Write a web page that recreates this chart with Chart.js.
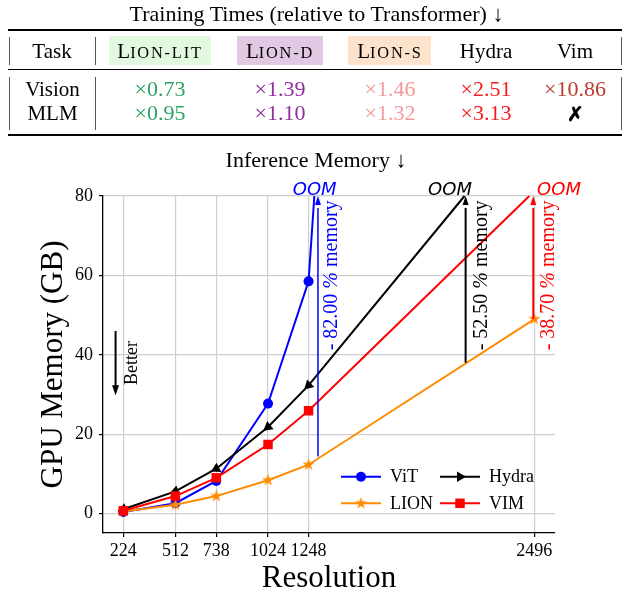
<!DOCTYPE html>
<html>
<head>
<meta charset="utf-8">
<script src="https://cdn.jsdelivr.net/npm/chart.js@4.4.1/dist/chart.umd.min.js"></script>
<style>
html, body { margin: 0; padding: 0; background: #fff; font-family: 'Liberation Serif', 'Times New Roman', Times, serif; }
#wrap { position: relative; width: 622px; height: 591px; overflow: hidden; }
#chart { position: absolute; left: 0; top: 0; }
.t { position: absolute; white-space: nowrap; line-height: 1; text-align: center; font-family: 'Liberation Serif', 'Times New Roman', Times, serif; }
.rule { position: absolute; background: #000; }
.vr { position: absolute; background: #555; width: 1px; }
.box { position: absolute; }
.sc { font-size: 0.78em; letter-spacing: 1.8px; }
</style>
</head>
<body>
<div id="wrap">
    <canvas id="chart" width="622" height="591"></canvas>
</div>
<script>
// ---- table data ----
const taskNames = ['Vision', 'MLM'];
const modelHeaders = ['L<span class="sc">ION-LIT</span>', 'L<span class="sc">ION-D</span>', 'L<span class="sc">ION-S</span>', 'Hydra', 'Vim'];
const visionTimes = ['×0.73', '×1.39', '×1.46', '×2.51', '×10.86'];
const mlmTimes = ['×0.95', '×1.10', '×1.32', '×3.13', '✗'];
const modelColors = ['#2ca25f', '#922b9f', '#f4999a', '#f41c1c', '#bb3b2e'];

// ---- chart data ----
const resolutions = [224, 512, 738, 1024, 1248];
const vitMemory = [0.4, 2.6, 8.2, 27.7, 58.5];
const hydraMemory = [1.1, 5.6, 11.3, 21.8, 32.3];
const lionMemory = [0.5, 2.2, 4.4, 8.4, 12.3];
const vimMemory = [0.7, 4.4, 9.0, 17.4, 25.9];
const lionExtraPoint = { x: 2496, y: 49.0 };
const oomLimit = 80;
const oomResolution = { vit: 1280, hydra: 2110, vim: 2468 };
const xTickValues = [224, 512, 738, 1024, 1248, 2496];
const yTickValues = [0, 20, 40, 60, 80];

// memory saving arrows: x, from, label
const savingArrows = [
    { x: 1300, from: 14.4, label: ['- 82.00 ', '%', ' memory'], color: '#0000ff', labelX: 1374, width: 1.5 },
    { x: 2116, from: 38.0, label: ['- 52.50 ', '%', ' memory'], color: '#000000', labelX: 2207, width: 2 },
    { x: 2490, from: 49.0, label: ['- 38.70 ', '%', ' memory'], color: '#ff0000', labelX: 2576, width: 2 }
];
const oomLabels = [
    { x: 1282, color: '#0000ff' },
    { x: 2030, color: '#000000' },
    { x: 2632, color: '#ff0000' }
];

const SERIF = "'Liberation Serif', 'Times New Roman', Times, serif";
const wrap = document.getElementById('wrap');

function place(html, cx, base, size, color) {
    const d = document.createElement('div');
    d.className = 't';
    d.style.fontFamily = SERIF;
    d.style.fontSize = size + 'px';
    d.style.left = (cx - 300) + 'px';
    d.style.width = '600px';
    d.style.top = (base - 0.8375 * size) + 'px';
    d.style.color = color || '#000';
    d.innerHTML = html;
    wrap.appendChild(d);
}

function rect(cls, left, top, w, h, color) {
    const d = document.createElement('div');
    d.className = cls;
    d.style.left = left + 'px';
    d.style.top = top + 'px';
    d.style.width = w + 'px';
    d.style.height = h + 'px';
    if (color) d.style.background = color;
    wrap.appendChild(d);
}

function buildTable() {
    // highlight boxes behind LION headers
    rect('box', 109, 36, 102, 29, '#e2f9e0');
    rect('box', 237, 36, 86, 29, '#e1c8e3');
    rect('box', 348, 36, 83, 29, '#fde2cc');

    place('Training Times (relative to Transformer) ↓', 316.5, 21, 22);
    rect('rule', 8, 29, 614, 2);
    rect('rule', 8, 69, 614, 1);
    rect('rule', 8, 134, 614, 2);
    [9, 95, 621].forEach(x => {
        rect('vr', x, 37, 1, 28);
        rect('vr', x, 77, 1, 53);
    });

    const colX = [160, 280, 390, 486, 575];
    place('Task', 52, 58.3, 21);
    modelHeaders.forEach((h, i) => place(h, colX[i], 58.3, 21));

    place(taskNames[0], 52.5, 96.7, 21);
    place(taskNames[1], 52.5, 120.7, 21);
    visionTimes.forEach((v, i) => place(v, colX[i], 96.7, 22, modelColors[i]));
    mlmTimes.forEach((v, i) => {
        if (v === '✗') place('<b>✗</b>', colX[i], 120.7, 20, '#000');
        else place(v, colX[i], 120.7, 22, modelColors[i]);
    });

    place('Inference Memory ↓', 316, 167, 22);
}

function makeStar(color, r) {
    const c = document.createElement('canvas');
    const s = Math.ceil(r * 2 + 2);
    c.width = s;
    c.height = s;
    const g = c.getContext('2d');
    g.fillStyle = color;
    g.beginPath();
    for (let i = 0; i < 10; i++) {
        const rr = i % 2 ? r * 0.382 : r;
        const a = -Math.PI / 2 + i * Math.PI / 5;
        g.lineTo(s / 2 + rr * Math.cos(a), s / 2 + rr * Math.sin(a));
    }
    g.closePath();
    g.fill();
    return c;
}

function toPoints(xs, ys) {
    return xs.map((x, i) => ({ x: x, y: ys[i] }));
}

function drawRotatedParts(ctx, parts, cx, cy, size, color) {
    const fonts = parts.map((p, i) => (i === 1 ? 'italic ' : '') + size + 'px ' + SERIF);
    let total = 0;
    const widths = parts.map((p, i) => {
        ctx.font = fonts[i];
        const w = ctx.measureText(p).width;
        total += w;
        return w;
    });
    ctx.save();
    ctx.translate(cx, cy);
    ctx.rotate(-Math.PI / 2);
    ctx.fillStyle = color;
    ctx.textBaseline = 'middle';
    ctx.textAlign = 'left';
    let pos = -total / 2;
    parts.forEach((p, i) => {
        ctx.font = fonts[i];
        ctx.fillText(p, pos, 0);
        pos += widths[i];
    });
    ctx.restore();
}

function arrowHead(ctx, x, y, dir, w, h, color) {
    ctx.save();
    ctx.fillStyle = color;
    ctx.beginPath();
    ctx.moveTo(x, y);
    ctx.lineTo(x - w / 2, y - dir * h);
    ctx.lineTo(x + w / 2, y - dir * h);
    ctx.closePath();
    ctx.fill();
    ctx.restore();
}

const starImg = makeStar('#ff8c00', 6.5);

const annotations = {
    id: 'annotations',
    afterDatasetsDraw(chart) {
        const ctx = chart.ctx;
        const xs = chart.scales.x;
        const ys = chart.scales.y;
        const area = chart.chartArea;

        // arrow heads on the saving arrows
        savingArrows.forEach(a => {
            arrowHead(ctx, xs.getPixelForValue(a.x), ys.getPixelForValue(oomLimit), -1, 6, 9, a.color);
            drawRotatedParts(ctx, a.label, xs.getPixelForValue(a.labelX), ys.getPixelForValue(60), 20, a.color);
        });

        // OOM labels
        ctx.save();
        ctx.font = 'italic 18px "DejaVu Sans"';
        ctx.textAlign = 'center';
        ctx.textBaseline = 'alphabetic';
        oomLabels.forEach(o => {
            ctx.fillStyle = o.color;
            ctx.fillText('OOM', xs.getPixelForValue(o.x), ys.getPixelForValue(oomLimit) - 1);
        });
        ctx.restore();

        // "Better" arrow
        const bx = xs.getPixelForValue(181.5);
        const by0 = ys.getPixelForValue(46);
        const by1 = ys.getPixelForValue(29.8);
        ctx.save();
        ctx.strokeStyle = '#000';
        ctx.lineWidth = 2;
        ctx.beginPath();
        ctx.moveTo(bx, by0);
        ctx.lineTo(bx, by1 - 8);
        ctx.stroke();
        ctx.restore();
        arrowHead(ctx, bx, by1, 1, 7, 10, '#000');
        drawRotatedParts(ctx, ['Better', '', ''], xs.getPixelForValue(274), ys.getPixelForValue(37.9), 18, '#000');

        // legend
        const items = [
            { label: 'ViT', color: '#0000ff', style: 'circle', col: 0, row: 0 },
            { label: 'Hydra', color: '#000000', style: 'triangle', col: 1, row: 0 },
            { label: 'LION', color: '#ff8c00', style: 'star', col: 0, row: 1 },
            { label: 'VIM', color: '#ff0000', style: 'rect', col: 1, row: 1 }
        ];
        const colX = [area.right - 214, area.right - 115];
        const rowY = [area.bottom - 56.3, area.bottom - 29.7];
        ctx.save();
        ctx.font = '18px ' + SERIF;
        ctx.textBaseline = 'middle';
        ctx.textAlign = 'left';
        items.forEach(it => {
            const x0 = colX[it.col];
            const y0 = rowY[it.row];
            ctx.strokeStyle = it.color;
            ctx.fillStyle = it.color;
            ctx.lineWidth = 2;
            ctx.beginPath();
            ctx.moveTo(x0, y0);
            ctx.lineTo(x0 + 40, y0);
            ctx.stroke();
            const mx = x0 + 20;
            if (it.style === 'circle') {
                ctx.beginPath();
                ctx.arc(mx, y0, 5, 0, Math.PI * 2);
                ctx.fill();
            } else if (it.style === 'rect') {
                ctx.fillRect(mx - 4.75, y0 - 4.75, 9.5, 9.5);
            } else if (it.style === 'star') {
                ctx.drawImage(starImg, mx - starImg.width / 2, y0 - starImg.height / 2);
            } else {
                ctx.beginPath();
                ctx.moveTo(mx + 6, y0);
                ctx.lineTo(mx - 3, y0 - 5.2);
                ctx.lineTo(mx - 3, y0 + 5.2);
                ctx.closePath();
                ctx.fill();
            }
            ctx.fillStyle = '#000';
            ctx.fillText(it.label, x0 + 49, y0 + 1);
        });
        ctx.restore();

        // axis titles
        ctx.save();
        ctx.fillStyle = '#000';
        ctx.font = '31px ' + SERIF;
        ctx.textAlign = 'center';
        ctx.textBaseline = 'alphabetic';
        ctx.fillText('Resolution', (area.left + area.right) / 2, 587);
        ctx.translate(61.5, (area.top + area.bottom) / 2);
        ctx.rotate(-Math.PI / 2);
        ctx.fillText('GPU Memory (GB)', 0, 0);
        ctx.restore();
    }
};

function createMemoryChart() {
    const ctx = document.getElementById('chart').getContext('2d');

    const datasets = [
        {
            label: 'ViT',
            data: toPoints(resolutions, vitMemory).concat([{ x: oomResolution.vit, y: oomLimit }]),
            borderColor: '#0000ff',
            backgroundColor: '#0000ff',
            pointStyle: 'circle',
            pointRadius: [5, 5, 5, 5, 5, 0],
            order: 4
        },
        {
            label: 'LION',
            data: toPoints(resolutions, lionMemory).concat([lionExtraPoint]),
            borderColor: '#ff8c00',
            backgroundColor: '#ff8c00',
            pointStyle: starImg,
            pointRadius: 6,
            order: 3
        },
        {
            label: 'Hydra',
            data: toPoints(resolutions, hydraMemory).concat([{ x: oomResolution.hydra, y: oomLimit }]),
            borderColor: '#000000',
            backgroundColor: '#000000',
            pointStyle: 'triangle',
            pointRotation: [250, 250, 242, 232, 226, 0],
            pointRadius: [6, 6, 6, 6, 6, 0],
            order: 2
        },
        {
            label: 'VIM',
            data: toPoints(resolutions, vimMemory).concat([{ x: oomResolution.vim, y: oomLimit }]),
            borderColor: '#ff0000',
            backgroundColor: '#ff0000',
            pointStyle: 'rect',
            pointRadius: [6.7, 6.7, 6.7, 6.7, 6.7, 0],
            order: 1
        }
    ];

    savingArrows.forEach(a => {
        datasets.push({
            label: 'saving',
            data: [{ x: a.x, y: a.from }, { x: a.x, y: oomLimit - 3 }],
            borderColor: a.color,
            borderWidth: a.width,
            pointRadius: 0,
            order: 0
        });
    });

    datasets.forEach(d => {
        d.clip = false;
        if (!d.borderWidth) d.borderWidth = 2;
        d.pointBorderWidth = 0;
        d.tension = 0;
    });

    const tickFont = { family: SERIF, size: 18 };

    return new Chart(ctx, {
        type: 'line',
        data: { datasets: datasets },
        options: {
            responsive: false,
            animation: false,
            devicePixelRatio: 1,
            events: [],
            layout: { padding: { top: 196, right: 67, left: 0, bottom: 0 } },
            scales: {
                x: {
                    type: 'linear',
                    min: 112,
                    max: 2610,
                    afterFit: s => { s.height = 58; },
                    afterBuildTicks: s => { s.ticks = xTickValues.map(v => ({ value: v })); },
                    ticks: {
                        autoSkip: false,
                        maxRotation: 0,
                        padding: 3,
                        color: '#000',
                        font: tickFont,
                        callback: v => String(v)
                    },
                    grid: { color: '#cfcfcf', lineWidth: 1.2, tickColor: '#000', tickLength: 4 },
                    border: { display: true, color: '#000', width: 1.3 }
                },
                y: {
                    min: -4.9,
                    max: 80,
                    afterFit: s => { s.width = 103; },
                    afterBuildTicks: s => { s.ticks = yTickValues.map(v => ({ value: v })); },
                    ticks: {
                        padding: 6,
                        color: '#000',
                        font: tickFont,
                        callback: v => String(v)
                    },
                    grid: { color: '#cfcfcf', lineWidth: 1.2, tickColor: '#000', tickLength: 4 },
                    border: { display: true, color: '#000', width: 1.3 }
                }
            },
            plugins: {
                legend: { display: false },
                tooltip: { enabled: false },
                title: { display: false }
            }
        },
        plugins: [annotations]
    });
}

buildTable();
createMemoryChart();
</script>
</body>
</html>
